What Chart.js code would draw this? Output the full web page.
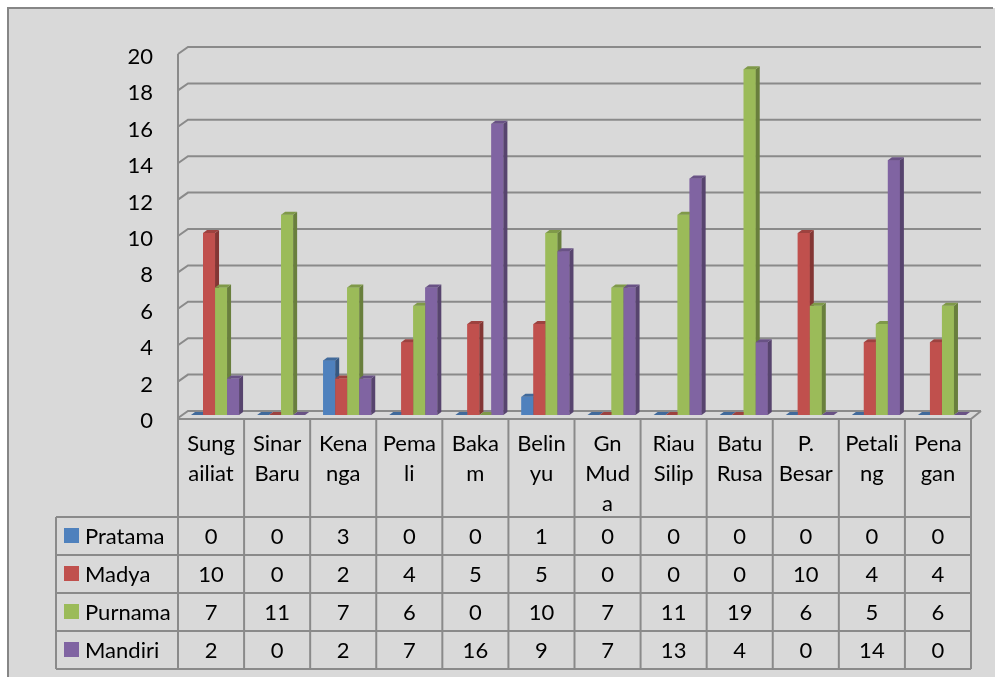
<!DOCTYPE html>
<html>
<head>
<meta charset="utf-8">
<script src="https://cdn.jsdelivr.net/npm/chart.js@4/dist/chart.umd.min.js"></script>
<style>
html,body{margin:0;padding:0;background:#fff;}
#wrap{width:995px;height:677px;}
</style>
</head>
<body>
<div id="wrap"><canvas id="c" width="995" height="677"></canvas></div>
<script>
// ---- data ----
const categories = [["Sung","ailiat"],["Sinar","Baru"],["Kena","nga"],["Pema","li"],["Baka","m"],["Belin","yu"],["Gn","Mud","a"],["Riau","Silip"],["Batu","Rusa"],["P.","Besar"],["Petali","ng"],["Pena","gan"]];
const seriesNames = ["Pratama","Madya","Purnama","Mandiri"];
const pratama = [0,0,3,0,0,1,0,0,0,0,0,0];
const madya   = [10,0,2,4,5,5,0,0,0,10,4,4];
const purnama = [7,11,7,6,0,10,7,11,19,6,5,6];
const mandiri = [2,0,2,7,16,9,7,13,4,0,14,0];
const yMin = 0, yMax = 20, yStep = 2;

// ---- styles ----
const seriesColors = ["#4f81bd","#c0504d","#9bbb59","#8064a2"];
const FONT = 'Lato, "Open Sans", sans-serif';
const LINE = '#8a8a8a';
const seriesValues = [pratama, madya, purnama, mandiri];

function shade(hex, f){
  const n = parseInt(hex.slice(1),16);
  const r = Math.round(((n>>16)&255)*f), g = Math.round(((n>>8)&255)*f), b = Math.round((n&255)*f);
  return 'rgb('+r+','+g+','+b+')';
}

const FRONT_SHIFT = 4;   // table / axis front edge left of bar area
const DEPTH_X = 10, DEPTH_Y = 7;

const bgPlugin = {
  id: 'bg',
  beforeDraw(chart){
    const ctx = chart.ctx;
    ctx.save();
    ctx.fillStyle = '#ffffff'; ctx.fillRect(0,0,chart.width,chart.height);
    ctx.fillStyle = '#d9d9d9'; ctx.fillRect(8,8,chart.width-8,chart.height-8);
    ctx.strokeStyle = '#868686'; ctx.lineWidth = 2;
    ctx.beginPath(); ctx.moveTo(8,chart.height); ctx.lineTo(8,8); ctx.lineTo(chart.width-2,8); ctx.stroke();
    ctx.restore();
  },
  beforeDatasetsDraw(chart){
    const ctx = chart.ctx, ys = chart.scales.y, ca = chart.chartArea;
    const fx = ca.left - FRONT_SHIFT, bx = fx + DEPTH_X;
    const fr = ca.right - FRONT_SHIFT, br = fr + DEPTH_X;
    ctx.save();
    ctx.strokeStyle = LINE; ctx.lineWidth = 2; ctx.lineJoin = 'miter';
    ys.ticks.forEach(t => {
      const p = ys.getPixelForValue(t.value);
      ctx.beginPath();
      ctx.moveTo(fx, p+3); ctx.lineTo(bx, p+3-DEPTH_Y); ctx.lineTo(br, p+3-DEPTH_Y);
      ctx.stroke();
    });
    // floor front edge
    const p0 = ys.getPixelForValue(yMin);
    ctx.beginPath();
    ctx.moveTo(fx, p0+4); ctx.lineTo(fr, p0+4); ctx.lineTo(br, p0+3-DEPTH_Y);
    ctx.stroke();
    ctx.restore();
  },
  afterDatasetsDraw(chart){
    const ctx = chart.ctx;
    const n = categories.length;
    const dx = 4, dy = 3;
    ctx.save();
    for (let i = 0; i < n; i++){
      for (let d = 0; d < seriesValues.length; d++){
        const el = chart.getDatasetMeta(d).data[i];
        const pr = el.getProps(['x','y','base','width'], true);
        const l = pr.x - pr.width/2, r = pr.x + pr.width/2, top = pr.y, base = pr.base;
        const c = seriesColors[d];
        ctx.fillStyle = c;
        ctx.fillRect(l, top, r-l, base-top);
        ctx.fillStyle = shade(c, 0.68);
        ctx.beginPath();
        ctx.moveTo(r, top); ctx.lineTo(r+dx, top-dy); ctx.lineTo(r+dx, base-dy); ctx.lineTo(r, base); ctx.closePath();
        ctx.fill();
        ctx.fillStyle = shade(c, 0.82);
        ctx.beginPath();
        ctx.moveTo(l, top); ctx.lineTo(l+dx, top-dy); ctx.lineTo(r+dx, top-dy); ctx.lineTo(r, top); ctx.closePath();
        ctx.fill();
      }
    }
    ctx.restore();
  },
  afterDraw(chart){
    const ctx = chart.ctx, ca = chart.chartArea, ys = chart.scales.y;
    const n = categories.length;
    const x0 = ca.left - FRONT_SHIFT;
    const colW = (ca.right - ca.left) / n;
    const xEnd = x0 + colW*n;
    const legendLeft = 56;
    const headTop = ys.getPixelForValue(yMin) + 4;
    const rowTop = 517, rowH = 38;
    const tableBottom = rowTop + rowH*seriesNames.length;
    ctx.save();
    ctx.strokeStyle = LINE; ctx.lineWidth = 2;
    ctx.beginPath();
    ctx.moveTo(x0, ys.getPixelForValue(yMax)+3); ctx.lineTo(x0, tableBottom); ctx.stroke();
    for (let i = 1; i <= n; i++){
      const x = x0 + colW*i;
      ctx.beginPath(); ctx.moveTo(x, headTop); ctx.lineTo(x, tableBottom); ctx.stroke();
    }
    ctx.beginPath(); ctx.moveTo(legendLeft, rowTop); ctx.lineTo(legendLeft, tableBottom); ctx.stroke();
    for (let r = 0; r <= seriesNames.length; r++){
      const y = rowTop + rowH*r;
      ctx.beginPath(); ctx.moveTo(legendLeft, y); ctx.lineTo(xEnd, y); ctx.stroke();
    }
    ctx.font = '22px ' + FONT;
    ctx.textBaseline = 'middle';
    for (let r = 0; r < seriesNames.length; r++){
      const cy = rowTop + rowH*r + rowH/2;
      ctx.fillStyle = seriesColors[r];
      ctx.fillRect(64, cy-8, 15, 15);
      ctx.fillStyle = '#000';
      ctx.textAlign = 'left';
      ctx.fillText(seriesNames[r], 85, cy+1);
      ctx.textAlign = 'center';
      for (let i = 0; i < n; i++){
        ctx.fillText(String(seriesValues[r][i]), x0 + colW*i + colW/2, cy+1);
      }
    }
    ctx.restore();
  }
};

new Chart(document.getElementById('c'), {
  type: 'bar',
  data: {
    labels: categories,
    datasets: seriesNames.map((name, d) => ({
      label: name,
      data: seriesValues[d],
      backgroundColor: seriesColors[d],
      borderWidth: 0,
      categoryPercentage: 0.727,
      barPercentage: 1.0
    }))
  },
  options: {
    responsive: false,
    animation: false,
    layout: { padding: { top: 51, left: 0, right: 20, bottom: 0 } },
    plugins: { legend: { display: false }, tooltip: { enabled: false } },
    scales: {
      x: {
        grid: { display: false, drawTicks: false },
        border: { display: false },
        afterFit(scale){ scale.height = 262; },
        ticks: {
          autoSkip: false, maxRotation: 0, minRotation: 0,
          padding: 14, labelOffset: -FRONT_SHIFT,
          color: '#000',
          font: { family: FONT, size: 22, lineHeight: 1.37 }
        }
      },
      y: {
        min: yMin, max: yMax,
        grid: { display: false, drawTicks: false },
        border: { display: false },
        afterFit(scale){ scale.width = 182; },
        ticks: {
          stepSize: yStep, padding: 29, labelOffset: 6,
          color: '#000',
          font: { family: FONT, size: 22 }
        }
      }
    }
  },
  plugins: [bgPlugin]
});
</script>
</body>
</html>
